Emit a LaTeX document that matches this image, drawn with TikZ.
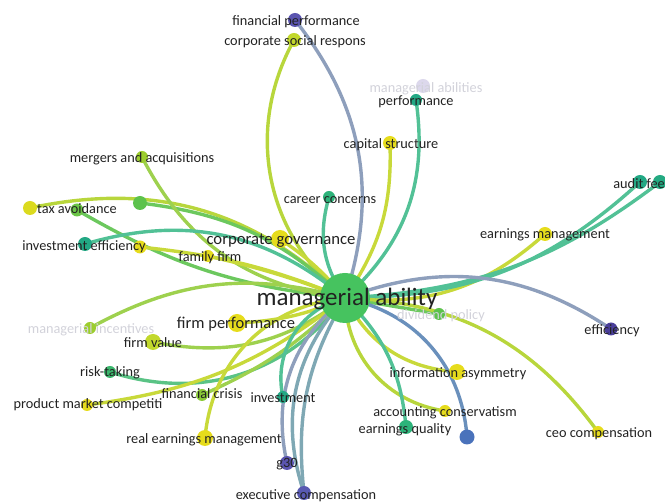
\documentclass[tikz,border=0pt]{standalone}
\usepackage{fontspec}
\setmainfont{Carlito}
\pgfdeclarelayer{edgelayer}
\pgfsetlayers{edgelayer,main}
\definecolor{cCenter}{HTML}{46C35F}
\definecolor{cYellow}{HTML}{E6DC1C}
\definecolor{cYG}{HTML}{C2D82C}
\definecolor{cLime}{HTML}{9CCD2E}
\definecolor{cGreen}{HTML}{5DC24C}
\definecolor{cTeal}{HTML}{22A884}
\definecolor{cTealG}{HTML}{2DB37A}
\definecolor{cPurple}{HTML}{5B55B0}
\definecolor{cDPurple}{HTML}{4A3F9A}
\definecolor{cBlue}{HTML}{4A72BB}
\definecolor{cFaintDot}{HTML}{DCD8EC}
\definecolor{cFaintTxt}{HTML}{D2D2DA}
\definecolor{labelc}{HTML}{222222}
\definecolor{eP}{HTML}{8E9FBC}
\definecolor{eYG}{HTML}{B8D63C}
\definecolor{eT}{HTML}{52C196}
\definecolor{eY}{HTML}{C8D93A}
\definecolor{eG}{HTML}{6CC85E}
\definecolor{eL}{HTML}{9ED14E}
\definecolor{eB}{HTML}{6A90BC}
\definecolor{ePT}{HTML}{7FA8B4}
\tikzset{
  dot/.style={circle,inner sep=0pt,minimum size=#1},
  lbl/.style={font=\fontsize{14.3}{16}\selectfont,text=labelc,inner sep=0pt,text height=1.5ex,text depth=.3ex,yshift=-2.5pt},
  flbl/.style={lbl,text=cFaintTxt},
  bigl/.style={font=\fontsize{25}{28}\selectfont,text=labelc,inner sep=0pt,text height=1.5ex,text depth=.3ex,yshift=-4.5pt},
  edge/.style={line width=3.4pt,line cap=round}
}
\begin{document}
\begin{tikzpicture}[x=1pt,y=-1pt]
\useasboundingbox (0,0) rectangle (665,502);
% dots
\node[dot=14pt,fill=cFaintDot] (mabs) at (423,86) {};
\node[dot=14pt,fill=cPurple] (finp) at (295,20) {};
\node[dot=14pt,fill=cYG] (csr) at (294,40) {};
\node[dot=12pt,fill=cTeal] (perf) at (416,100) {};
\node[dot=14pt,fill=cYellow] (capst) at (390,143) {};
\node[dot=12pt,fill=cLime] (merg) at (142,157) {};
\node[dot=14pt,fill=cYellow!85!cLime] (taxy) at (30,208) {};
\node[dot=14pt,fill=cGreen] (gdot) at (140,203) {};
\node[dot=13pt,fill=cGreen!80!cLime] (tax) at (77,210) {};
\node[dot=12pt,fill=cTealG] (career) at (329,197) {};
\node[dot=14pt,fill=cTeal] (inveff) at (85,244) {};
\node[dot=13pt,fill=cYellow] (ydot) at (140,247) {};
\node[dot=18pt,fill=cYellow] (cg) at (280,239) {};
\node[dot=12pt,fill=cYellow] (fam) at (208,256) {};
\node[dot=12pt,fill=cLime] (minc) at (90,328) {};
\node[dot=18pt,fill=cYellow] (firmp) at (237,323) {};
\node[dot=16pt,fill=cYG] (firmv) at (153,342) {};
\node[dot=12pt,fill=cTealG!70!cGreen] (risk) at (110,372) {};
\node[dot=12pt,fill=cYellow] (pmc) at (87,405) {};
\node[dot=12pt,fill=cLime!70!cGreen] (fcr) at (202,395) {};
\node[dot=12pt,fill=cTeal] (inv) at (283,397) {};
\node[dot=16pt,fill=cYellow] (rem) at (205,438) {};
\node[dot=14pt,fill=cPurple] (gthirty) at (287,463) {};
\node[dot=14pt,fill=cPurple!85!cBlue] (exc) at (304,493) {};
\node[dot=14pt,fill=cYellow] (em) at (545,234) {};
\node[dot=14pt,fill=cTeal] (auda) at (640,182) {};
\node[dot=14pt,fill=cTeal!80!cTealG] (audb) at (660,182) {};
\node[dot=12pt,fill=cGreen] (div) at (439,314) {};
\node[dot=13pt,fill=cDPurple] (eff) at (611,329) {};
\node[dot=16pt,fill=cYellow] (ia) at (457,372) {};
\node[dot=12pt,fill=cYellow] (acc) at (445,411) {};
\node[dot=14pt,fill=cTealG] (eq) at (406,427) {};
\node[dot=15pt,fill=cBlue] (bdot) at (467,437) {};
\node[dot=12pt,fill=cYellow] (ceo) at (598,432) {};
\node[dot=50pt,fill=cCenter] (ma) at (345,298) {};
% edges
\begin{pgfonlayer}{edgelayer}
\draw[edge,eP] (ma.center) to[bend right=28] (finp.center);
\draw[edge,eYG] (ma.center) to[bend left=40] (csr.center);
\draw[edge,eT] (ma.center) to[bend right=28] (perf.center);
\draw[edge,eY] (ma.center) to[bend right=18] (capst.center);
\draw[edge,eT] (ma.center) to[bend left=25] (career.center);
\draw[edge,eY] (ma.center) to[bend right=8] (cg.center);
\draw[edge,eYG] (ma.center) to[bend right=28] (taxy.center);
\draw[edge,eG] (ma.center) to[bend right=18] (gdot.center);
\draw[edge,eG] (ma.center) to[bend left=12] (tax.center);
\draw[edge,eL] (ma.center) to[bend left=28] (merg.center);
\draw[edge,eT] (ma.center) to[bend right=28] (inveff.center);
\draw[edge,eY] (ma.center) to[bend right=8] (ydot.center);
\draw[edge,eY] (ma.center) to[bend right=4] (fam.center);
\draw[edge,eL] (ma.center) to[bend right=22] (minc.center);
\draw[edge,eY] (ma.center) to[bend left=10] (firmp.center);
\draw[edge,eL] (ma.center) to[bend left=24] (firmv.center);
\draw[edge,eT!70!eG] (ma.center) to[bend left=35] (risk.center);
\draw[edge,eY] (ma.center) to[bend left=15] (pmc.center);
\draw[edge,eL] (ma.center) to[bend left=10] (fcr.center);
\draw[edge,eY] (ma.center) to[bend right=40] (rem.center);
\draw[edge,eT] (ma.center) to[bend right=45] (inv.center);
\draw[edge,eP] (ma.center) to[bend right=32] (gthirty.center);
\draw[edge,ePT] (ma.center) to[bend right=30] (exc.center);
\draw[edge,ePT] (ma.center) to[bend right=18] (exc.center);
\draw[edge,eY] (ma.center) to[bend right=24] (em.center);
\draw[edge,eT] (ma.center) to[bend right=21] (auda.center);
\draw[edge,eT] (ma.center) to[bend right=17] (audb.center);
\draw[edge,eP] (ma.center) to[bend left=27] (eff.center);
\draw[edge,eG] (ma.center) to (div.center);
\draw[edge,eYG] (ma.center) to[bend left=26] (ceo.center);
\draw[edge,eY] (ma.center) to[bend right=29] (ia.center);
\draw[edge,eYG] (ma.center) to[bend right=40] (acc.center);
\draw[edge,eT] (ma.center) to[bend left=20] (eq.center);
\draw[edge,eB] (ma.center) to[bend left=37] (bdot.center);
\end{pgfonlayer}
% labels
\node[flbl] (lmabs) at (426,87) {managerial abilities};
\node[flbl] (lminc) at (91,328) {managerial incentives};
\node[flbl] (ldiv) at (441,314) {dividend policy};
\node[lbl] (lfinp) at (296,20) {financial performance};
\node[lbl] (lcsr) at (295,40) {corporate social respons};
\node[lbl] (lperf) at (416,100) {performance};
\node[lbl] (lcapst) at (391,143) {capital structure};
\node[lbl] (lmerg) at (142,157) {mergers and acquisitions};
\node[lbl] (ltax) at (77,208) {tax avoidance};
\node[lbl] (lcareer) at (330,198) {career concerns};
\node[lbl] (linveff) at (84,245) {investment efficiency};
\node[lbl,font=\fontsize{16.7}{18}\selectfont] (lcg) at (281,239) {corporate governance};
\node[lbl] (lfam) at (210,256) {family firm};
\node[lbl,font=\fontsize{16.5}{18}\selectfont] (lfirmp) at (236,323) {firm performance};
\node[lbl] (lfirmv) at (153,342) {firm value};
\node[lbl] (lrisk) at (110,371) {risk-taking};
\node[lbl] (lpmc) at (88,403) {product market competiti};
\node[lbl] (lfcr) at (202,393) {financial crisis};
\node[lbl] (linv) at (283,397) {investment};
\node[lbl] (lrem) at (204,438) {real earnings management};
\node[lbl] (lg) at (287,462) {g30};
\node[lbl] (lexc) at (306,494) {executive compensation};
\node[lbl] (lem) at (545,233) {earnings management};
\node[lbl,anchor=east] (laud) at (665,183) {audit fee};
\node[lbl] (leff) at (612,329) {efficiency};
\node[lbl] (lia) at (458,372) {information asymmetry};
\node[lbl] (lacc) at (445,411) {accounting conservatism};
\node[lbl] (leq) at (405,428) {earnings quality};
\node[lbl] (lceo) at (599,432) {ceo compensation};
\node[bigl] (lma) at (347,298) {managerial ability};
\end{tikzpicture}
\end{document}
